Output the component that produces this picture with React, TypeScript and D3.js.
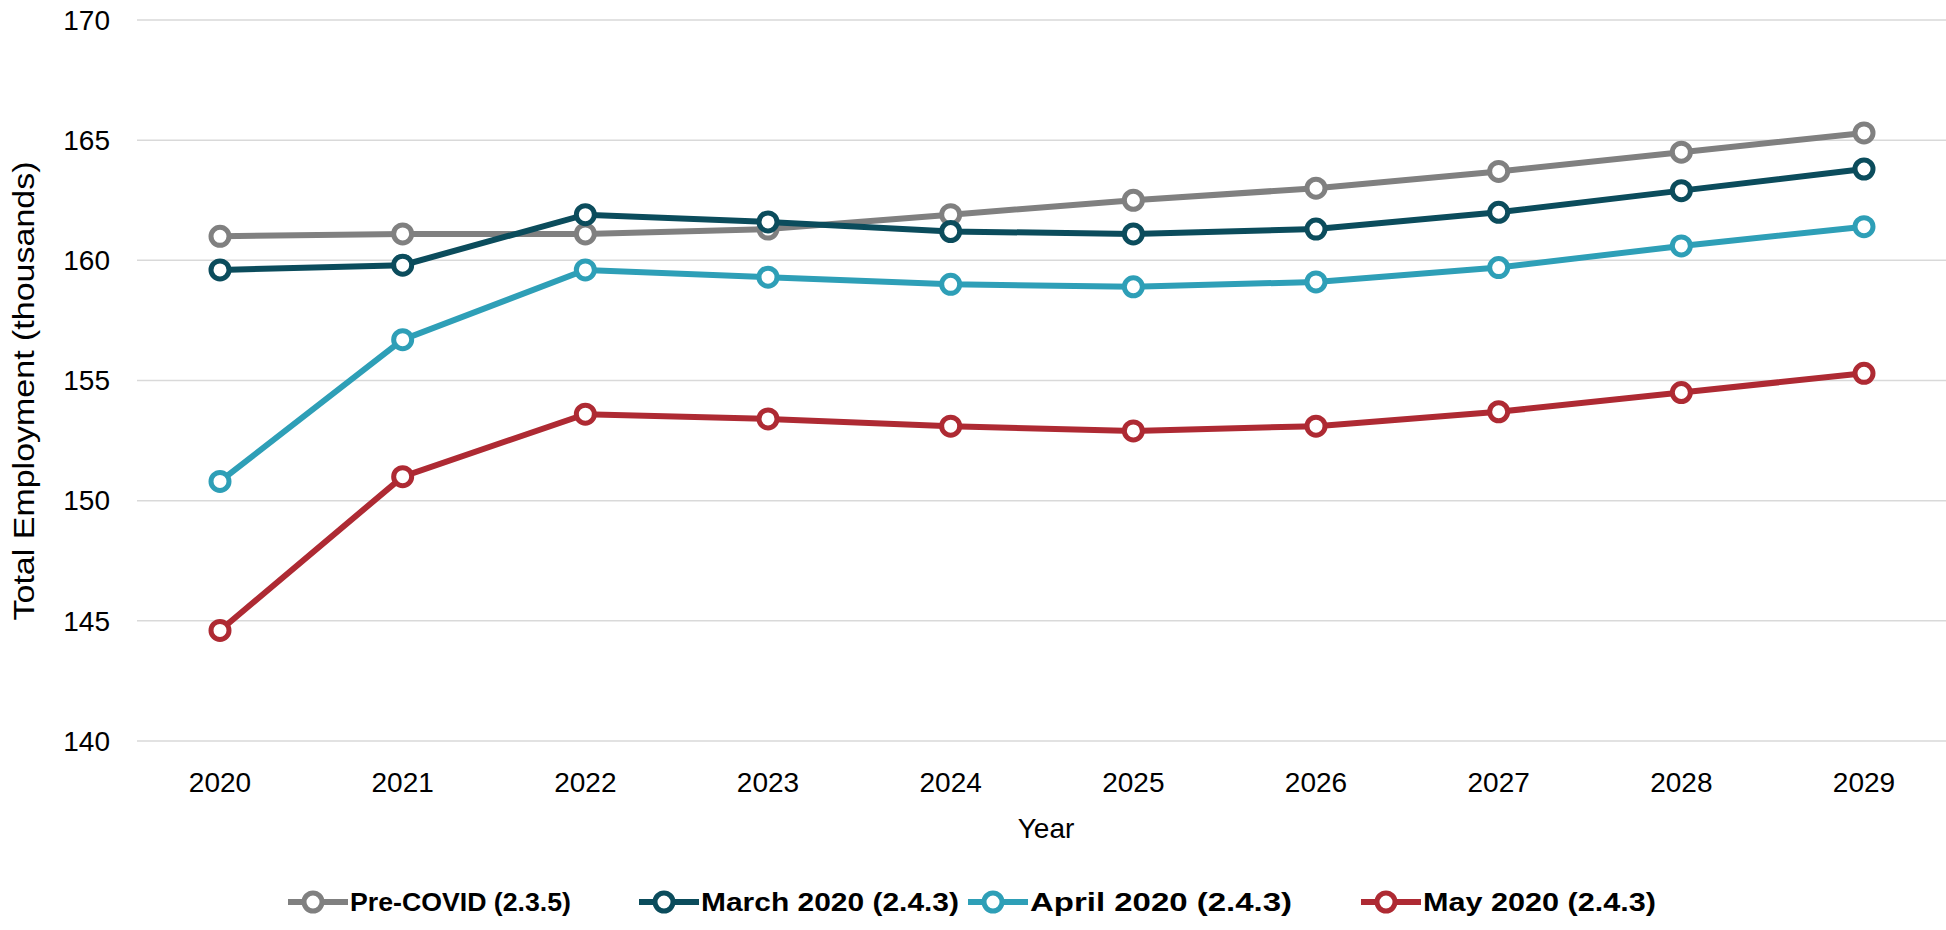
import React from 'react';
import * as d3 from 'd3';

const years = ['2020', '2021', '2022', '2023', '2024', '2025', '2026', '2027', '2028', '2029'];
const preCovid = [161.0, 161.1, 161.1, 161.3, 161.9, 162.5, 163.0, 163.7, 164.5, 165.3];
const march2020 = [159.6, 159.8, 161.9, 161.6, 161.2, 161.1, 161.3, 162.0, 162.9, 163.8];
const april2020 = [150.8, 156.7, 159.6, 159.3, 159.0, 158.9, 159.1, 159.7, 160.6, 161.4];
const may2020 = [144.6, 151.0, 153.6, 153.4, 153.1, 152.9, 153.1, 153.7, 154.5, 155.3];
const seriesNames = ['Pre-COVID (2.3.5)', 'March 2020 (2.4.3)', 'April 2020 (2.4.3)', 'May 2020 (2.4.3)'];
const seriesColors = ['#808080', '#0b4c5c', '#2e9fb7', '#ae2a33'];
const yTicks = [140, 145, 150, 155, 160, 165, 170];

const W = 1946, H = 930;
const font = '"Liberation Sans", Arial, sans-serif';

export default function App() {
  const x = d3.scalePoint<string>().domain(years).range([220, 1864]);
  const y = d3.scaleLinear().domain([140, 170]).range([741, 20]);
  const line = d3.line<number>().x((_, i) => x(years[i])!).y(d => y(d));
  const all = [preCovid, march2020, april2020, may2020];
  const legendX = [288, 639, 968, 1361];
  const legendW = [221, 258, 262, 233];

  return (
    <svg width={W} height={H} style={{ position: 'absolute', left: 0, top: 0, background: '#fff' }} fontFamily={font}>
      {yTicks.map(t => (
        <g key={t}>
          <line x1={137} x2={W} y1={y(t)} y2={y(t)} stroke="#d9d9d9" strokeWidth={1.5} />
          <text x={110} y={y(t)} dy="0.35em" textAnchor="end" fontSize={28} fill="#000">{t}</text>
        </g>
      ))}
      {years.map(yr => (
        <text key={yr} x={x(yr)} y={782} dy="0.35em" textAnchor="middle" fontSize={28}>{yr}</text>
      ))}
      <text x={1046} y={828} dy="0.35em" textAnchor="middle" fontSize={28}>Year</text>
      <text transform="translate(24,391) rotate(-90)" dy="0.35em" textAnchor="middle" fontSize={29}
        textLength={459} lengthAdjust="spacingAndGlyphs">Total Employment (thousands)</text>
      {all.map((s, k) => (
        <g key={k}>
          <path d={line(s)!} fill="none" stroke={seriesColors[k]} strokeWidth={6} />
          {s.map((v, i) => (
            <circle key={i} cx={x(years[i])} cy={y(v)} r={9} fill="#fff" stroke={seriesColors[k]} strokeWidth={5} />
          ))}
        </g>
      ))}
      {seriesNames.map((n, k) => (
        <g key={n}>
          <line x1={legendX[k]} x2={legendX[k] + 60} y1={902} y2={902} stroke={seriesColors[k]} strokeWidth={6} />
          <circle cx={legendX[k] + 25} cy={902} r={9} fill="#fff" stroke={seriesColors[k]} strokeWidth={5} />
          <text x={legendX[k] + 62} y={902} dy="0.35em" fontSize={25} fontWeight="bold"
            textLength={legendW[k]} lengthAdjust="spacingAndGlyphs">{n}</text>
        </g>
      ))}
    </svg>
  );
}
